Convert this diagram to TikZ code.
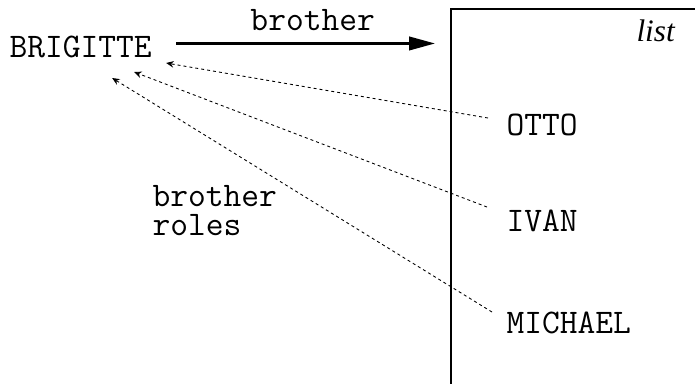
\documentclass[tikz,border=0pt]{standalone}
\usepackage{fontspec}
\setmainfont{Liberation Serif}
\usetikzlibrary{arrows.meta,calc}

\begin{document}
\begin{tikzpicture}[
    x=0.4pt, y=-0.4pt,
    every node/.style={inner sep=0pt, anchor=base west, font=\ttfamily\fontsize{13.8}{12}\selectfont},
    relation/.style={line width=1pt, -{Triangle[length=10.4pt,width=5.4pt]}},
    role/.style={dashed, dash pattern=on 1.2pt off 1.2pt, line width=0.35pt, -{Stealth[length=3pt,width=2.6pt]}}
]
% Manual bounding box
\useasboundingbox (0,0) rectangle (695,383);

% The list box
\node[draw, line width=0.8pt, anchor=north west, minimum width=98.8pt, minimum height=150.4pt] (listbox) at (450,8) {};
\node[font=\rmfamily\itshape\fontsize{12.5}{12}\selectfont] (listlabel) at (636,41) {list};

% Names
\node (brigitte) at (9,57) {BRIGITTE};
\node (otto) at (506,135) {OTTO};
\node (ivan) at (506,231) {IVAN};
\node (michael) at (506,333) {MICHAEL};

% Labels
\node (brotherlabel) at (250,30) {brother};
\node[align=left, font=\ttfamily\fontsize{13.8}{11.6}\selectfont] (roleslabel) at (152,235) {brother\\roles};

% Connections
\draw[relation] ($(brigitte.east)+(24,-3)$) -- ($(brigitte.east -| listbox.west)+(-15,-3)$);
\draw[role] ($(otto.base west)+(-18,-17)$) -- ($(brigitte.base east)+(14,6)$);
\draw[role] ($(ivan.base west)+(-19,-24)$) -- ($(brigitte.base east)+(-18,15)$);
\draw[role] ($(michael.base west)+(-14,-21)$) -- ($(brigitte.base east)+(-40,21)$);

\end{tikzpicture}
\end{document}
